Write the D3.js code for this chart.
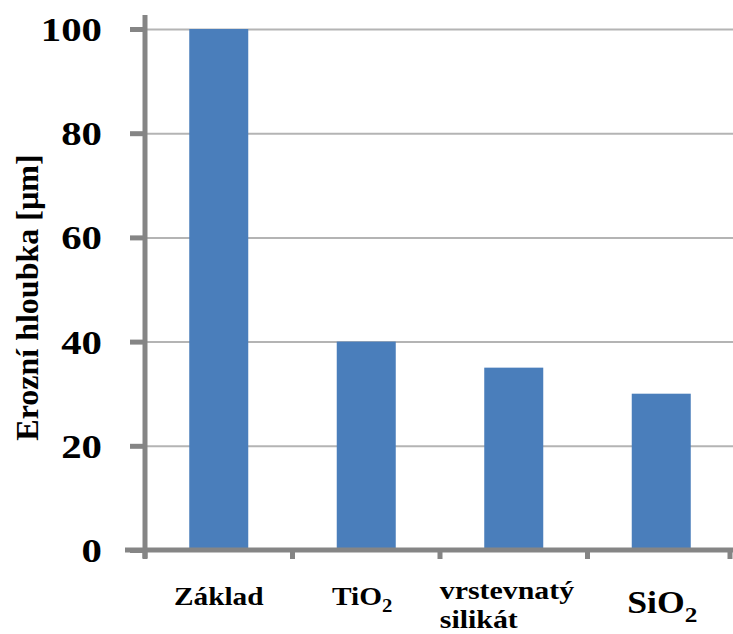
<!DOCTYPE html>
<html>
<head>
<meta charset="utf-8">
<script src="https://cdn.jsdelivr.net/npm/d3@7"></script>
<style>
  html, body { margin: 0; padding: 0; background: #fff; }
  svg { display: block; }
  text { font-family: "Liberation Serif", "Times New Roman", serif; font-weight: bold; fill: #000; }
</style>
</head>
<body>
<svg id="chart" width="733" height="634"></svg>
<script>
// ---- data ----
const categories = ["Základ", "TiO2", "vrstevnatý silikát", "SiO2"];
const values = [100, 40, 35, 30];
const yTicks = [0, 20, 40, 60, 80, 100];
const yTitle = "Erozní hloubka [µm]";

// ---- layout ----
const FONT = '"Liberation Serif", "Times New Roman", serif';
const svg = d3.select("#chart");
const plotLeft = 145, plotRight = 735, plotTop = 29, plotBottom = 550;
const axisColor = "#858585";
const gridColor = "#b4b4b4";
const barColor = "#4a7ebb";
const sx = 1.15; // horizontal stretch of the original text

const y = d3.scaleLinear().domain([0, 100]).range([plotBottom, plotTop]);
const x = d3.scaleBand().domain(categories).range([plotLeft, plotRight])
  .paddingInner(0.6).paddingOuter(0.3);

// gridlines
const grid = svg.append("g").attr("transform", `translate(${plotLeft},0)`)
  .call(d3.axisLeft(y).tickValues(yTicks.filter(v => v > 0)).tickSize(-(733 - plotLeft)).tickFormat(""));
grid.select(".domain").remove();
grid.selectAll(".tick line").attr("stroke", gridColor).attr("stroke-width", 2);

// bars
svg.append("g").selectAll("rect").data(categories).join("rect")
  .attr("x", d => x(d))
  .attr("width", x.bandwidth())
  .attr("y", (d, i) => y(values[i]))
  .attr("height", (d, i) => y(0) - y(values[i]))
  .attr("fill", barColor);

// y axis
const yAxis = svg.append("g").attr("transform", `translate(${plotLeft},0)`)
  .call(d3.axisLeft(y).tickValues(yTicks).tickSize(15).tickPadding(28).tickSizeOuter(0));
yAxis.attr("font-family", null).attr("font-size", null);
yAxis.select(".domain").remove();
yAxis.selectAll(".tick line").attr("stroke", axisColor).attr("stroke-width", 5);
yAxis.selectAll(".tick text")
  .style("font-size", "34px")
  .style("font-family", FONT)
  .style("font-weight", "bold")
  .attr("fill", "#000")
  .attr("x", -43 / 1.2)
  .attr("transform", "scale(1.2,1)")
  .attr("dy", "0.34em");

svg.append("line")
  .attr("x1", plotLeft).attr("x2", plotLeft)
  .attr("y1", 15).attr("y2", plotBottom + 8)
  .attr("stroke", axisColor).attr("stroke-width", 5);

// x axis line
svg.append("line")
  .attr("x1", 125).attr("x2", 733)
  .attr("y1", plotBottom).attr("y2", plotBottom)
  .attr("stroke", axisColor).attr("stroke-width", 5);

// x ticks at band boundaries
const gap = (x.step() - x.bandwidth()) / 2;
const bounds = categories.map(c => x(c) - gap).concat([x(categories[categories.length - 1]) - gap + x.step()]);
svg.append("g").selectAll("line").data(bounds).join("line")
  .attr("x1", d => Math.min(d, 730)).attr("x2", d => Math.min(d, 730))
  .attr("y1", plotBottom).attr("y2", plotBottom + 9)
  .attr("stroke", axisColor).attr("stroke-width", 5);

// x labels
function addLabel(g, str, size, anchor) {
  const t = g.append("text").attr("text-anchor", anchor)
    .style("font-size", size + "px").style("font-family", FONT).style("font-weight", "bold");
  const parts = str.match(/[A-Za-zÀ-ž]+|\d+/g);
  let prevSub = false;
  parts.forEach(p => {
    const isSub = /^\d+$/.test(p);
    const ts = t.append("tspan").text(p).style("font-family", FONT);
    if (isSub) { ts.style("font-size", Math.round(size * 0.72) + "px").attr("dy", size * 0.28); prevSub = true; }
    else if (prevSub) { ts.attr("dy", -size * 0.28); prevSub = false; }
  });
  return t;
}
const labelSizes = [25.5, 25.5, 26, 31];
const labelY = [605, 605, 599, 613];
const labelDx = [0, -4, -74, 1];
categories.forEach((c, i) => {
  const cx = x(c) + x.bandwidth() / 2 + labelDx[i];
  const words = c.split(" ");
  words.forEach((w, j) => {
    const g = svg.append("g").attr("transform", `translate(${cx},${labelY[i] + j * 29}) scale(${sx},1)`);
    addLabel(g, w, labelSizes[i], words.length > 1 ? "start" : "middle");
  });
});

// y title
svg.append("text")
  .attr("transform", `translate(38,${(140 + 455) / 2}) rotate(-90)`)
  .attr("text-anchor", "middle")
  .style("font-size", "32px")
  .style("font-family", FONT)
  .text(yTitle);
</script>
</body>
</html>
